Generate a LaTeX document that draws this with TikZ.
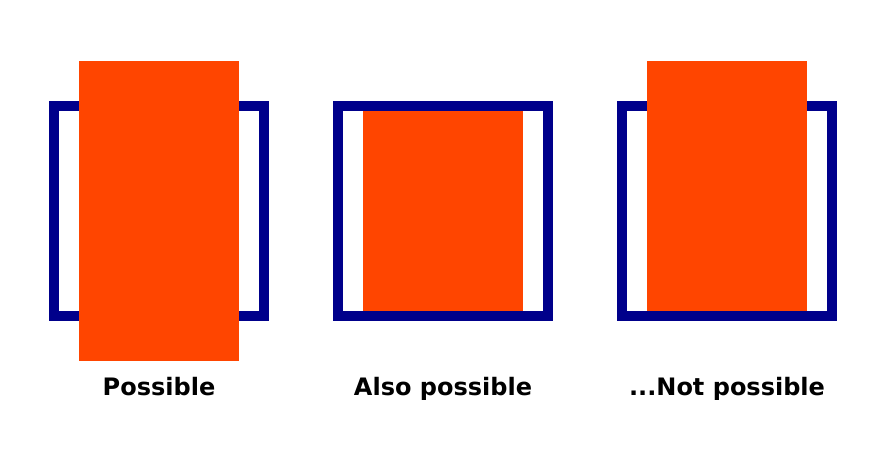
\documentclass[tikz,border=0pt]{standalone}
\usepackage{fontspec}
\setsansfont{DejaVu Sans}
\usepackage{tikz}
\definecolor{boxblue}{HTML}{00008B}
\definecolor{fillorange}{HTML}{FF4500}
\tikzset{
  boxframe/.style={
    draw=boxblue,
    line width=10pt
  },
  content/.style={
    fill=fillorange
  },
  caption/.style={
    font=\sffamily\bfseries\fontsize{24}{28}\selectfont,
    anchor=base,
    inner sep=0pt
  }
}

\begin{document}
\begin{tikzpicture}[x=1pt, y=-1pt]
  \useasboundingbox (0,0) rectangle (882,474);

  % possible
  \draw[boxframe] (54,106) rectangle (264,316);
  \fill[content] (79,61) rectangle (239,361);
  \node[caption] (possible) at (159,395) {Possible};

  % also possible
  \fill[content] (363,111) rectangle (523,311);
  \draw[boxframe] (338,106) rectangle (548,316);
  \node[caption] (alsopossible) at (443,395) {Also possible};

  % not possible
  \draw[boxframe] (622,106) rectangle (832,316);
  \fill[content] (647,61) rectangle (807,311);
  \node[caption] (notpossible) at (727,395) {...Not possible};
\end{tikzpicture}
\end{document}
